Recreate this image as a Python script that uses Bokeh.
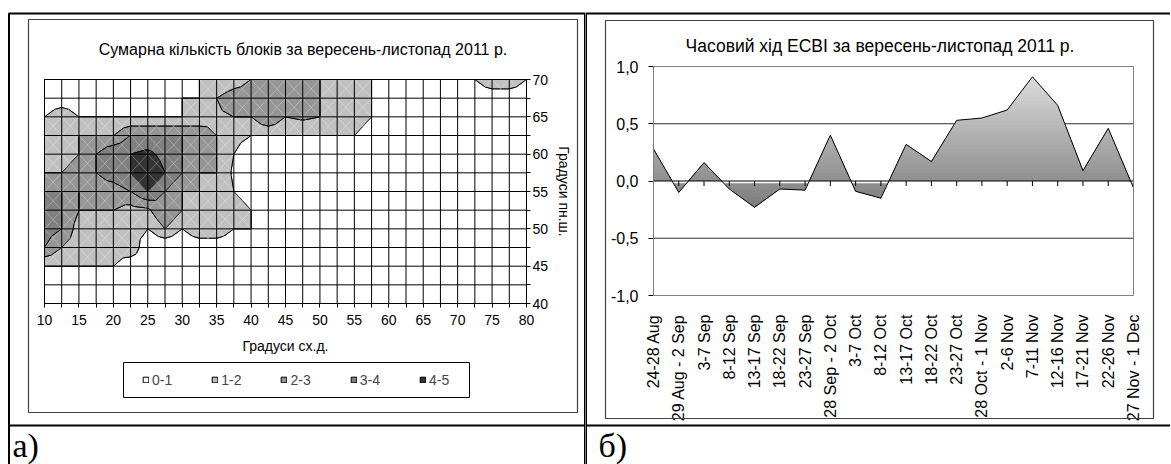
import math
import numpy as np
from contourpy import contour_generator, FillType
from bokeh.plotting import figure
from bokeh.layouts import row
from bokeh.models import (Range1d, FixedTicker, BoxAnnotation, Label, Legend, LegendItem,
                          LinearAxis, Grid, CustomJSTickFormatter)
from bokeh.embed import file_html
from bokeh.resources import INLINE

# ---------------- panel а) data ----------------
lon = [10, 12.5, 15, 17.5, 20, 22.5, 25, 27.5, 30, 32.5, 35, 37.5, 40, 42.5, 45, 47.5,
       50, 52.5, 55, 57.5, 60, 62.5, 65, 67.5, 70, 72.5, 75, 77.5, 80]
lat = [70, 67.5, 65, 62.5, 60, 57.5, 55, 52.5, 50, 47.5, 45, 42.5, 40]
blocks = [
    [0, 0, 0, 0, 0, 0, 0, 0, 1, 1, 1, 1.4, 2, 2.4, 2.4, 2.2, 2, 1.5, 1.5, 1, 0, 0, 0, 0, 0, 1, 2, 2, 1],
    [0, 0, 0, 0, 0, 0, 0, 0, 1, 1, 2, 2.6, 2.6, 2.6, 2.6, 2.4, 2, 1.5, 1.5, 1, 0, 0, 0, 0, 0, 0, 0, 0, 0],
    [1, 2, 1, 1, 1, 1, 1, 1, 1, 1.4, 1.8, 2, 2, 3, 2, 2.2, 2, 1.5, 2, 1, 0, 0, 0, 0, 0, 0, 0, 0, 0],
    [1, 1, 2, 2, 2, 3, 3, 3, 3, 2.6, 2, 1.5, 1, 1, 1, 1, 1, 1, 1, 0, 0, 0, 0, 0, 0, 0, 0, 0, 0],
    [1, 1.5, 2, 3, 3.9, 4, 4.3, 3.6, 3, 2.5, 2, 1, 0, 0, 0, 0, 0, 0, 0, 0, 0, 0, 0, 0, 0, 0, 0, 0, 0],
    [2, 2, 2.5, 3, 3.5, 4, 5, 4, 3, 2, 2, 0.8, 0, 0, 0, 0, 0, 0, 0, 0, 0, 0, 0, 0, 0, 0, 0, 0, 0],
    [3, 3, 2, 2.5, 2.5, 3, 4, 3, 2, 2, 2, 1, 0, 0, 0, 0, 0, 0, 0, 0, 0, 0, 0, 0, 0, 0, 0, 0, 0],
    [3.5, 3, 2, 2, 2, 1.6, 1.8, 3, 2, 1.5, 1.5, 2, 1, 0, 0, 0, 0, 0, 0, 0, 0, 0, 0, 0, 0, 0, 0, 0, 0],
    [3.5, 3, 1.5, 1.5, 1.5, 1.5, 1, 2, 1, 2, 2, 1, 1, 0, 0, 0, 0, 0, 0, 0, 0, 0, 0, 0, 0, 0, 0, 0, 0],
    [3, 2, 1.5, 1.5, 1.5, 2, 0, 0, 0, 0, 0, 0, 0, 0, 0, 0, 0, 0, 0, 0, 0, 0, 0, 0, 0, 0, 0, 0, 0],
    [1, 1, 1, 1, 1, 0, 0, 0, 0, 0, 0, 0, 0, 0, 0, 0, 0, 0, 0, 0, 0, 0, 0, 0, 0, 0, 0, 0, 0],
    [0, 0, 0, 0, 0, 0, 0, 0, 0, 0, 0, 0, 0, 0, 0, 0, 0, 0, 0, 0, 0, 0, 0, 0, 0, 0, 0, 0, 0],
    [0, 0, 0, 0, 0, 0, 0, 0, 0, 0, 0, 0, 0, 0, 0, 0, 0, 0, 0, 0, 0, 0, 0, 0, 0, 0, 0, 0, 0],
]
band_lower = [-1, 1, 2, 3, 4]
band_upper = [1, 2, 3, 4, 6]
band_labels = ["0-1", "1-2", "2-3", "3-4", "4-5"]
band_colors = ["#FFFFFF", "#C0C0C0", "#969696", "#808080", "#333333"]
lon_major = [10, 15, 20, 25, 30, 35, 40, 45, 50, 55, 60, 65, 70, 75, 80]
lat_major = [40, 45, 50, 55, 60, 65, 70]
title_a = "Сумарна кількість блоків за вересень-листопад 2011 р."
xlabel_a = "Градуси сх.д."
ylabel_a = "Градуси пн.ш."

# ---------------- panel б) data ----------------
periods = ["24-28 Aug", "29 Aug - 2 Sep", "3-7 Sep", "8-12 Sep", "13-17 Sep", "18-22 Sep",
           "23-27 Sep", "28 Sep - 2 Oct", "3-7 Oct", "8-12 Oct", "13-17 Oct", "18-22 Oct",
           "23-27 Oct", "28 Oct - 1 Nov", "2-6 Nov", "7-11 Nov", "12-16 Nov", "17-21 Nov",
           "22-26 Nov", "27 Nov - 1 Dec"]
ecbi = [0.28, -0.10, 0.16, -0.07, -0.23, -0.07, -0.08, 0.40, -0.09, -0.15,
        0.32, 0.17, 0.53, 0.55, 0.62, 0.91, 0.66, 0.09, 0.46, -0.06]
ecbi_ticks = [-1.0, -0.5, 0.0, 0.5, 1.0]
ecbi_grid = [-0.5, 0.5]
title_b = "Часовий хід ECBI за вересень-листопад 2011 р."

FONT = "Liberation Sans"

# ---------------- geometry (page px; the canvas covers the page) ----------------
W_L, W_R, H = 585, 585, 464
SPLIT = 585
LF = dict(x0=44, x1=526, y0=79, y1=303)      # left plot area on page
RF = dict(x0=653, x1=1133, y0=66, y1=295)    # right plot area on page


def lx(px):
    return lon[0] + (px - LF["x0"]) * (lon[-1] - lon[0]) / (LF["x1"] - LF["x0"])


def ly(py):
    return lat[0] - (py - LF["y0"]) * (lat[0] - lat[-1]) / (LF["y1"] - LF["y0"])


def rx(px):
    return (px - RF["x0"]) * (len(periods) - 1) / (RF["x1"] - RF["x0"])


def ry(py):
    return ecbi_ticks[-1] - (py - RF["y0"]) * (ecbi_ticks[-1] - ecbi_ticks[0]) / (RF["y1"] - RF["y0"])


def box(fig, l, r, t, b, color, width):
    fig.add_layout(BoxAnnotation(left=l, right=r, top=t, bottom=b, fill_color=None, fill_alpha=0,
                                 line_color=color, line_alpha=1.0, line_width=width))


# =============== left figure ===============
pL = figure(width=W_L, height=H, x_range=Range1d(lx(0), lx(W_L)), y_range=Range1d(ly(H), ly(0)),
            output_backend="svg", toolbar_location=None, x_axis_location=None, y_axis_location=None,
            min_border=0)
pL.outline_line_color = None
pL.center = [r for r in pL.center if not isinstance(r, Grid)]

Z = np.array(blocks, dtype=float)[::-1]
lat_asc = np.array(lat, dtype=float)[::-1]
gen = contour_generator(np.array(lon, dtype=float), lat_asc, Z, name="serial",
                        quad_as_tri=True, fill_type=FillType.OuterOffset)
band_renderers = []
for lo, hi, col in zip(band_lower, band_upper, band_colors):
    pts_list, offs_list = gen.filled(lo, hi)
    xs, ys = [], []
    for pts, offs in zip(pts_list, offs_list):
        rxs = [pts[offs[k]:offs[k + 1], 0].tolist() for k in range(len(offs) - 1)]
        rys = [pts[offs[k]:offs[k + 1], 1].tolist() for k in range(len(offs) - 1)]
        xs.append([rxs])
        ys.append([rys])
    r = pL.multi_polygons(xs=xs, ys=ys, fill_color=col, line_color="black", line_width=1)
    band_renderers.append(r)

# faint triangulation diagonals of each cell
dx0, dy0, dx1, dy1 = [], [], [], []
for i in range(len(lon) - 1):
    for j in range(len(lat) - 1):
        dx0 += [lon[i], lon[i]]
        dy0 += [lat[j], lat[j + 1]]
        dx1 += [lon[i + 1], lon[i + 1]]
        dy1 += [lat[j + 1], lat[j]]
pL.segment(x0=dx0, y0=dy0, x1=dx1, y1=dy1, line_color="white", line_alpha=0.35, line_width=0.8)

# grid of the contour chart
pL.segment(x0=lon, y0=[lat[-1]] * len(lon), x1=lon, y1=[lat[0]] * len(lon), line_color="black", line_width=1)
pL.segment(x0=[lon[0]] * len(lat), y0=lat, x1=[lon[-1]] * len(lat), y1=lat, line_color="black", line_width=1)

minor_lon = [v for v in lon if v not in lon_major]
minor_lat = [v for v in lat if v not in lat_major]
xA = LinearAxis(fixed_location=lat[-1], bounds=(lon[0], lon[-1]),
                ticker=FixedTicker(ticks=lon_major, minor_ticks=minor_lon), axis_label=xlabel_a)
yA = LinearAxis(fixed_location=lon[-1], bounds=(lat[-1], lat[0]),
                ticker=FixedTicker(ticks=lat_major, minor_ticks=minor_lat), axis_label=ylabel_a)
for ax in (xA, yA):
    ax.axis_line_color = "black"
    ax.major_tick_line_color = "black"
    ax.minor_tick_line_color = "black"
    ax.major_tick_in = 0
    ax.major_tick_out = 4
    ax.minor_tick_in = 0
    ax.minor_tick_out = 4
    ax.major_label_text_font = FONT
    ax.major_label_text_font_size = "14px"
    ax.major_label_text_color = "black"
    ax.axis_label_text_font = FONT
    ax.axis_label_text_font_size = "14px"
    ax.axis_label_text_font_style = "normal"
    ax.axis_label_text_color = "black"
xA.major_label_standoff = 7
xA.axis_label_standoff = 10
yA.major_label_standoff = 2
yA.axis_label_standoff = 5
pL.add_layout(xA, "below")
pL.add_layout(yA, "right")

legend = Legend(items=[LegendItem(label=lab, renderers=[r]) for lab, r in zip(band_labels, band_renderers)],
                orientation="horizontal", location=(142, H - 389.5),
                glyph_width=7, glyph_height=7, label_standoff=3, spacing=39, padding=0, margin=0,
                label_height=20, border_line_color=None, background_fill_alpha=0,
                label_text_font=FONT, label_text_font_size="14px")
pL.add_layout(legend)

box(pL, lx(123), lx(469), ly(362), ly(397), "black", 1)
box(pL, lx(28), lx(577), ly(19), ly(412), "#404040", 1.2)
box(pL, lx(8.5), lx(584.5), ly(13), ly(H + 40), "black", 2)
box(pL, lx(8.5), lx(584.5), ly(425), ly(425), "black", 2)
pL.add_layout(Label(x=lx(302.5), y=ly(48.5), text=title_a, text_align="center", text_baseline="middle",
                    text_font=FONT, text_font_size="16px", text_color="black"))
pL.add_layout(Label(x=lx(12), y=ly(463), text="а)", text_align="left", text_baseline="bottom",
                    text_font="Liberation Serif", text_font_size="34px", text_color="black"))

# =============== right figure ===============
idx = list(range(len(periods)))
pR = figure(width=W_R, height=H, x_range=Range1d(rx(SPLIT), rx(SPLIT + W_R)), y_range=Range1d(ry(H), ry(0)),
            output_backend="svg", toolbar_location=None, x_axis_location=None, y_axis_location=None,
            min_border=0)
pR.outline_line_color = None
pR.center = [r for r in pR.center if not isinstance(r, Grid)]

pR.segment(x0=[idx[0]] * len(ecbi_grid), y0=ecbi_grid, x1=[idx[-1]] * len(ecbi_grid), y1=ecbi_grid,
           line_color="#303030", line_width=1)

# gradient-filled area (light at top, dark at bottom)
vmax, vmin = max(ecbi), min(ecbi)
xd = np.linspace(idx[0], idx[-1], 1901)
vd = np.interp(xd, idx, ecbi)
pos = np.maximum(vd, 0)
neg = np.minimum(vd, 0)


def grey(c):
    t = (c - vmin) / (vmax - vmin)
    t = min(max(t, 0.0), 1.0)
    g = int(round(0x7C + t * (0xDC - 0x7C)))
    return "#%02x%02x%02x" % (g, g, g)


thresholds = np.arange(1.0, vmin - 0.03, -0.03)
for c in thresholds:
    if c > 0:
        y2 = np.minimum(pos, c)
        pR.varea(x=xd, y1=np.zeros_like(xd), y2=y2, fill_color=grey(c - 0.015))
    else:
        y2 = np.clip(c, neg, 0)
        pR.varea(x=xd, y1=neg, y2=y2, fill_color=grey(c - 0.015))

pR.line(idx, ecbi, line_color="black", line_width=1)
pR.segment(x0=[idx[0]], y0=[0], x1=[idx[-1]], y1=[0], line_color="black", line_width=1)
tick_len = 5 * (ecbi_ticks[-1] - ecbi_ticks[0]) / (RF["y1"] - RF["y0"])
pR.segment(x0=idx, y0=[0] * len(idx), x1=idx, y1=[-tick_len] * len(idx), line_color="black", line_width=1)

yB = LinearAxis(fixed_location=idx[0], bounds=(ecbi_ticks[0], ecbi_ticks[-1]),
                ticker=FixedTicker(ticks=ecbi_ticks),
                formatter=CustomJSTickFormatter(code="return tick.toFixed(1).replace('.', ',');"))
yB.minor_tick_line_color = None
yB.major_tick_in = 0
yB.major_tick_out = 5
yB.major_label_standoff = 10
yB.axis_line_color = "black"
yB.major_tick_line_color = "black"

xB = LinearAxis(fixed_location=ecbi_ticks[0], bounds=(idx[0], idx[-1]), ticker=FixedTicker(ticks=idx),
                formatter=CustomJSTickFormatter(args=dict(labels=periods),
                                                code="const i = Math.round(tick); return (i >= 0 && i < labels.length) ? labels[i] : '';"))
xB.axis_line_color = None
xB.major_tick_line_color = None
xB.minor_tick_line_color = None
xB.major_label_orientation = math.pi / 2
xB.major_label_standoff = 13
for ax in (xB, yB):
    ax.major_label_text_font = FONT
    ax.major_label_text_font_size = "16px"
    ax.major_label_text_color = "black"
pR.add_layout(yB, "left")
pR.add_layout(xB, "below")

box(pR, idx[0], idx[-1], ecbi_ticks[-1], ecbi_ticks[0], "#808080", 1)
box(pR, rx(605), rx(1153), ry(20), ry(418), "#404040", 1.2)
box(pR, rx(585.5), rx(1250), ry(13), ry(H + 40), "black", 2)
box(pR, rx(585.5), rx(1250), ry(425), ry(425), "black", 2)
pR.add_layout(Label(x=rx(879.5), y=ry(45), text=title_b, text_align="center", text_baseline="middle",
                    text_font=FONT, text_font_size="17.5px", text_color="black"))
pR.add_layout(Label(x=rx(598), y=ry(463), text="б)", text_align="left", text_baseline="bottom",
                    text_font="Liberation Serif", text_font_size="34px", text_color="black"))

layout = row(pL, pR, spacing=0)
open("out.html", "w").write(file_html(layout, INLINE))
